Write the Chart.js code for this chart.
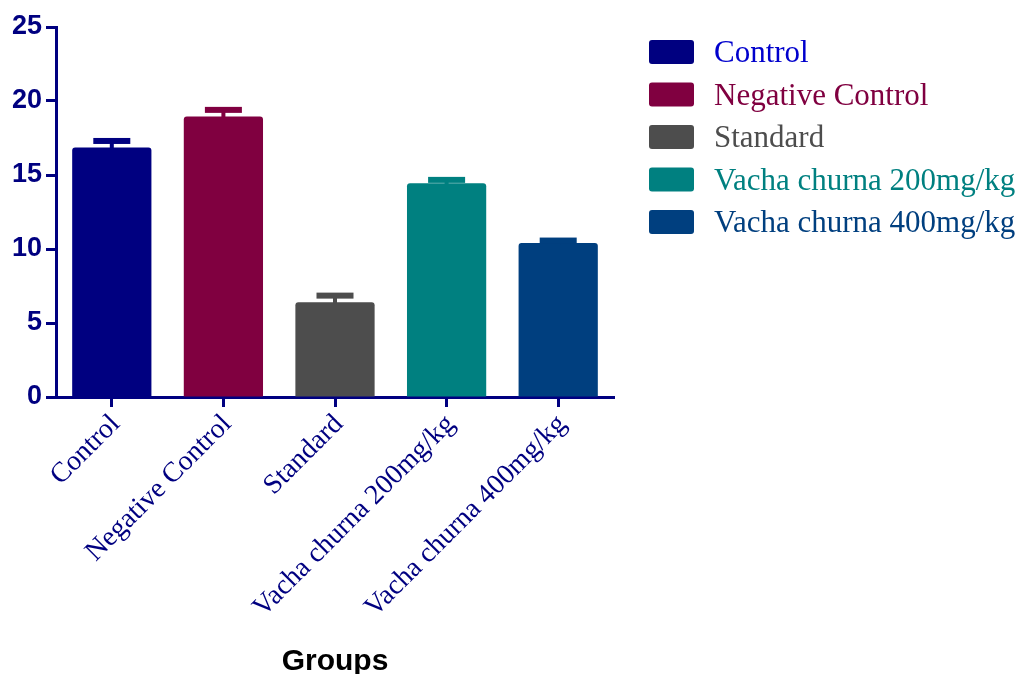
<!DOCTYPE html>
<html>
<head>
<meta charset="utf-8">
<script src="https://cdn.jsdelivr.net/npm/chart.js@4/dist/chart.umd.min.js"></script>
<style>
  html, body { margin: 0; padding: 0; background: #ffffff; }
  #wrap { width: 1021px; height: 674px; }
</style>
</head>
<body>
<div id="wrap"><canvas id="chart" width="1021" height="674"></canvas></div>
<script>
// Group names, means and SEM values
const categories = ['Control', 'Negative Control', 'Standard', 'Vacha churna 200mg/kg', 'Vacha churna 400mg/kg'];
const means = [16.85, 18.95, 6.4, 14.45, 10.4];
const errors = [0.45, 0.45, 0.45, 0.22, 0.17];
const yTicks = [0, 5, 10, 15, 20, 25];

// Per-group colours
const barColors = ['#000080', '#800040', '#4d4d4d', '#008080', '#003f7f'];
const legendTextColors = ['#0000cd', '#800040', '#4d4d4d', '#008080', '#003f7f'];

const NAVY = '#000080';

// Upper error bars (stem + cap) positioned through the y scale
const errorBarPlugin = {
  id: 'errorBars',
  afterDatasetsDraw(chart) {
    const ctx = chart.ctx;
    const yScale = chart.scales.y;
    const meta = chart.getDatasetMeta(0);
    ctx.save();
    meta.data.forEach((bar, i) => {
      const x = bar.x;
      const yTop = yScale.getPixelForValue(means[i] + errors[i]);
      const yBar = yScale.getPixelForValue(means[i]);
      ctx.fillStyle = barColors[i];
      // stem
      ctx.fillRect(x - 2, yTop, 4, yBar - yTop + 1);
      // cap
      ctx.fillRect(x - 18.5, yTop - 3, 37, 6);
    });
    ctx.restore();
  }
};

// Legend box on the right listing each group
const sideLegendPlugin = {
  id: 'sideLegend',
  afterDraw(chart) {
    const ctx = chart.ctx;
    ctx.save();
    ctx.font = '31px "Liberation Serif", "Times New Roman", serif';
    ctx.textBaseline = 'middle';
    ctx.textAlign = 'left';
    categories.forEach((name, i) => {
      const cy = 52 + i * 42.5;
      ctx.fillStyle = barColors[i];
      ctx.beginPath();
      ctx.roundRect(649, cy - 12, 45, 24, 3);
      ctx.fill();
      ctx.fillStyle = legendTextColors[i];
      ctx.fillText(name, 714, cy + 2);
    });
    ctx.restore();
  }
};

new Chart(document.getElementById('chart'), {
  type: 'bar',
  data: {
    labels: categories,
    datasets: [{
      data: means,
      backgroundColor: barColors,
      borderWidth: 0,
      borderRadius: 3,
      borderSkipped: 'bottom',
      barPercentage: 0.71,
      categoryPercentage: 1.0
    }]
  },
  options: {
    responsive: false,
    animation: false,
    devicePixelRatio: 1,
    layout: { padding: { top: 27, right: 407, left: 0, bottom: 0 } },
    plugins: {
      legend: { display: false },
      tooltip: { enabled: false }
    },
    scales: {
      x: {
        offset: true,
        afterFit(scale) { scale.height = 277; },
        grid: {
          offset: false,
          drawOnChartArea: false,
          drawTicks: true,
          tickLength: 10,
          tickWidth: 3,
          tickColor: NAVY
        },
        border: { display: true, color: NAVY, width: 3 },
        ticks: {
          autoSkip: false,
          minRotation: 45,
          maxRotation: 45,
          padding: 1,
          labelOffset: 4,
          color: NAVY,
          font: { family: '"Liberation Serif", "Times New Roman", serif', size: 28 }
        },
        title: {
          display: true,
          text: 'Groups',
          color: '#000000',
          padding: { top: 0, bottom: -6 },
          font: { family: '"Liberation Sans", Arial, sans-serif', size: 30, weight: 'bold' }
        }
      },
      y: {
        min: 0,
        max: 25,
        afterFit(scale) { scale.width = 56; },
        afterBuildTicks(scale) { scale.ticks = yTicks.map(v => ({ value: v })); },
        grid: {
          drawOnChartArea: false,
          drawTicks: true,
          tickLength: 10,
          tickWidth: 3,
          tickColor: NAVY
        },
        border: { display: true, color: NAVY, width: 3 },
        ticks: {
          padding: 4,
          color: NAVY,
          font: { family: '"Liberation Sans", Arial, sans-serif', size: 27, weight: 'bold' }
        }
      }
    }
  },
  plugins: [errorBarPlugin, sideLegendPlugin]
});
</script>
</body>
</html>
